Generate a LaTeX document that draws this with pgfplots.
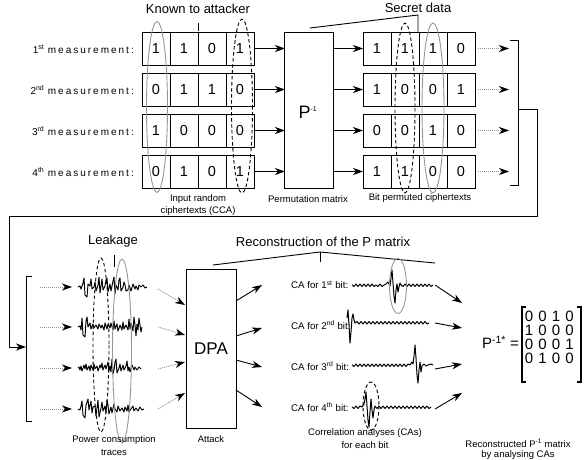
\documentclass[border=0pt]{standalone}
\usepackage{pgfplots}
\pgfplotsset{compat=1.18}
\usepackage{fontspec}
\setmainfont{Liberation Sans}
\usetikzlibrary{arrows.meta}
\definecolor{eg}{RGB}{150,150,150}
\tikzset{
 bx/.style={line width=0.9pt},
 arr/.style={line width=0.9pt,-{Stealth[length=10pt,width=7pt,inset=3pt]}},
 darr/.style={line width=0.9pt,draw=eg,dash pattern=on 1pt off 1pt,-{Stealth[length=10pt,width=7pt,inset=3pt,color=black]}},
 gell/.style={draw=eg,line width=0.9pt},
 dell/.style={draw=black,line width=0.9pt,dash pattern=on 3.5pt off 2.5pt},
 dg/.style={font=\fontsize{14.5}{16}\selectfont,inner sep=0pt},
 cpt/.style={font=\fontsize{9.5}{11}\selectfont,inner sep=0pt},
 hd/.style={font=\fontsize{13}{15}\selectfont,inner sep=0pt},
 ml/.style={font=\fontsize{10}{12}\selectfont,inner sep=0pt,anchor=east},
 cal/.style={font=\fontsize{9.7}{11}\selectfont,inner sep=0pt,anchor=west},
 md/.style={font=\fontsize{15}{17}\selectfont,inner sep=0pt},
}
\newcommand\boxrow[7]{\draw[bx] (#1,#6) rectangle (#5,#7); \draw[bx] (#2,#6)--(#2,#7) (#3,#6)--(#3,#7) (#4,#6)--(#4,#7);}
\newcommand\drowL[5]{\node[dg] at (156,#1) {#2}; \node[dg] at (184,#1) {#3}; \node[dg] at (212,#1) {#4}; \node[dg] at (240,#1) {#5};}
\newcommand\drowR[5]{\node[dg] at (377,#1) {#2}; \node[dg] at (405,#1) {#3}; \node[dg] at (433,#1) {#4}; \node[dg] at (461,#1) {#5};}
\newcommand\mrow[5]{\node[md] at (529,#1) {#2}; \node[md] at (542.5,#1) {#3}; \node[md] at (556,#1) {#4}; \node[md] at (569.5,#1) {#5};}
\newcommand\meas[2]{\node[ml] at (134,#1) {#2\hspace{0.35em}{\addfontfeatures{LetterSpace=20}measurement:}};}
\begin{document}
\begin{tikzpicture}
\begin{axis}[scale only axis, width=584pt, height=459pt, xmin=0, xmax=584, ymin=0, ymax=459,
  y dir=reverse, axis lines=none, clip=false]
\path (0,0) rectangle (584,459);
% ---------- top part ----------
\node[hd] at (198,9) {Known to attacker};
\draw[bx] (198,23) -- (198,31);
\node[hd] at (418,8) {Secret data};
\draw[bx] (310,28) -- (418,15) -- (418,32);
\meas{49}{1\textsuperscript{st}}
\meas{90}{2\textsuperscript{nd}}
\meas{131}{3\textsuperscript{rd}}
\meas{172}{4\textsuperscript{th}}
\boxrow{142}{170}{198}{226}{254}{32}{65}
\boxrow{142}{170}{198}{226}{254}{73}{106}
\boxrow{142}{170}{198}{226}{254}{114}{147}
\boxrow{142}{170}{198}{226}{254}{155}{188}
\drowL{49}{1}{1}{0}{1}
\drowL{90}{0}{1}{1}{0}
\drowL{131}{1}{0}{0}{0}
\drowL{172}{0}{1}{0}{1}
\draw[gell] (157,107) ellipse [x radius=10.5, y radius=85.5];
\draw[dell] (242,106) ellipse [x radius=10.5, y radius=87];
\draw[arr] (254,48.5) -- (285,48.5);
\draw[arr] (254,89.5) -- (285,89.5);
\draw[arr] (254,130.5) -- (285,130.5);
\draw[arr] (254,171.5) -- (285,171.5);
\draw[bx] (284,32) rectangle (333,188);
\node[font=\fontsize{18}{20}\selectfont,inner sep=0pt] at (308,112) {P\textsuperscript{\fontsize{7}{8}\selectfont -1}};
\draw[arr] (333,48.5) -- (363,48.5);
\draw[arr] (333,89.5) -- (363,89.5);
\draw[arr] (333,130.5) -- (363,130.5);
\draw[arr] (333,171.5) -- (363,171.5);
\boxrow{363}{391}{419}{447}{475}{32}{65}
\boxrow{363}{391}{419}{447}{475}{73}{106}
\boxrow{363}{391}{419}{447}{475}{114}{147}
\boxrow{363}{391}{419}{447}{475}{155}{188}
\drowR{49}{1}{1}{1}{0}
\drowR{90}{1}{0}{0}{1}
\drowR{131}{0}{0}{1}{0}
\drowR{172}{1}{1}{0}{0}
\draw[dell] (405,108) ellipse [x radius=10, y radius=85];
\draw[gell] (433,108) ellipse [x radius=11, y radius=85];
\draw[darr] (478,48.5) -- (509,48.5);
\draw[darr] (478,89.5) -- (509,89.5);
\draw[darr] (478,130.5) -- (509,130.5);
\draw[darr] (478,171.5) -- (509,171.5);
\draw[bx] (510,40) -- (518,40) -- (518,185) -- (510,185);
\draw[bx] (518,109) -- (537,109) -- (537,216) -- (9,216) -- (9,347);
\draw[arr] (8.55,347) -- (26,347);
\node[cpt] at (198,199) {Input random};
\node[cpt] at (198,211) {ciphertexts (CCA)};
\node[cpt] at (308,199) {Permutation matrix};
\node[cpt] at (420,198) {Bit permuted ciphertexts};
% ---------- bottom part ----------
\draw[bx] (32,276) -- (26,276) -- (26,421) -- (32,421);
\node[hd] at (113,241) {Leakage};
\draw[bx] (114,255) -- (114,267);
\draw[darr] (40,287) -- (72,287);
\draw[darr] (40,327) -- (72,327);
\draw[darr] (40,368) -- (72,368);
\draw[darr] (40,409) -- (72,409);
\addplot[black,line width=0.95pt,line join=round] coordinates {(78,287)(80,286)(81,289)(83,283)(84,278)(85,295)(87,297)(88,284)(90,286)(91,279)(92,289)(94,287)(95,282)(96,291)(98,285)(99,277)(100,293)(102,279)(103,290)(105,286)(106,280)(107,278)(108,292)(110,284)(111,291)(113,281)(114,277)(115,294)(116,285)(118,290)(119,280)(120,278)(121,291)(123,287)(124,282)(125,285)(126,291)(128,290)(129,285)(131,291)(133,284)(135,289)(136,286)(138,290)(139,285)(141,287)(143,285)(145,288)(147,287)};
\addplot[black,line width=0.95pt,line join=round] coordinates {(78,327)(80,326)(81,330)(82,318)(83,335)(85,337)(86,321)(87,317)(88,327)(90,323)(91,329)(93,324)(94,328)(96,325)(98,329)(99,324)(101,328)(102,325)(104,330)(105,323)(107,329)(108,324)(110,328)(111,323)(113,330)(114,321)(115,329)(117,324)(118,331)(120,325)(122,330)(123,322)(124,329)(126,325)(128,330)(129,319)(130,329)(131,323)(133,331)(134,317)(135,325)(136,336)(137,324)(138,330)(139,318)(140,325)(141,332)(142,327)};
\addplot[black,line width=0.95pt,line join=round] coordinates {(78,368)(79,367)(80,370)(81,366)(82,371)(84,365)(85,369)(86,364)(87,370)(89,366)(90,371)(91,365)(93,370)(94,364)(95,369)(97,366)(98,371)(100,365)(101,368)(102,363)(103,370)(105,365)(106,369)(108,362)(109,371)(110,366)(111,372)(112,359)(113,374)(114,370)(115,362)(116,359)(117,373)(119,368)(120,364)(121,371)(123,365)(124,370)(126,366)(127,361)(128,371)(129,367)(130,372)(132,365)(134,370)(135,367)(137,370)(139,367)(141,369)};
\addplot[black,line width=0.95pt,line join=round] coordinates {(78,409)(80,410)(81,406)(82,401)(83,415)(85,418)(86,405)(88,399)(89,410)(90,405)(91,401)(92,413)(93,407)(95,406)(96,416)(97,408)(98,400)(99,417)(101,408)(102,402)(103,411)(105,406)(106,413)(107,400)(108,405)(109,414)(111,407)(112,413)(114,404)(115,409)(117,412)(118,406)(120,411)(122,408)(124,412)(125,407)(127,411)(128,405)(129,412)(131,409)(133,406)(134,411)(136,408)(138,411)(140,407)(142,410)(144,409)};
\draw[dell] (101,345) ellipse [x radius=8, y radius=87];
\draw[gell] (122,351) ellipse [x radius=9.5, y radius=92];
\draw[darr] (158,289) -- (185,305);
\draw[darr] (158,327) -- (185,335);
\draw[darr] (158,369) -- (185,362);
\draw[darr] (158,409) -- (185,393);
\draw[bx] (186,269) rectangle (236,428);
\node[font=\fontsize{17}{19}\selectfont,inner sep=0pt] at (211,349) {DPA};
\node[cpt] at (211,439) {Attack};
\node[cpt] at (114,440) {Power consumption};
\node[cpt] at (114,452) {traces};
\node[hd] at (323,242) {Reconstruction of the P matrix};
\draw[bx] (213,265) -- (320,252) -- (435,263);
\draw[bx] (320,252) -- (320,262);
\draw[arr] (236,301) -- (262,285);
\draw[arr] (236,336) -- (262,328);
\draw[arr] (236,360) -- (262,367);
\draw[arr] (236,390) -- (262,407);
\node[cal] at (291,285) {CA for 1\textsuperscript{st} bit:};
\node[cal] at (291,325) {CA for 2\textsuperscript{nd} bit:};
\node[cal] at (291,366) {CA for 3\textsuperscript{rd} bit:};
\node[cal] at (291,407) {CA for 4\textsuperscript{th} bit:};
\addplot[black,line width=1pt,line join=round] coordinates {(352,285)(354,286.5)(356,284)(358,286.5)(360,284)(362,286.5)(364,284)(366,286.5)(368,284)(370,286.5)(372,284)(374,286.5)(376,285)(378,286.5)(380,284)(382,286.5)(384,285)(386,284)(388,282)(389,284)(390,286)(391,278)(392,270)(393,283)(394,296)(395,303)(396,290)(397,284)(398,292)(399,287)(400,283)(401,285)(403,286.5)(405,284)(407,286.5)(409,284)(411,286.5)(413,284)(415,286.5)(417,284)(419,286.5)(421,284)(423,286.5)(425,284)(427,286.5)(429,284)(431,286.5)(433,285)};
\addplot[black,line width=1pt,line join=round] coordinates {(347,318)(348,310)(349,325)(350,343)(351,332)(352,318)(353,314)(354,320)(355,323)(357,321.5)(359,324)(361,321.5)(363,324)(365,321.5)(367,324)(369,321.5)(371,324)(373,321.5)(375,324)(377,321.5)(379,324)(381,321.5)(383,324)(385,321.5)(387,324)(389,321.5)(391,324)(393,321.5)(395,324)(397,321.5)(399,324)(401,321.5)(403,324)(405,321.5)(407,324)(409,321.5)(411,324)(413,321.5)(415,324)(417,321.5)(419,324)(421,321.5)(423,324)(425,321.5)(427,324)(429,323)};
\addplot[black,line width=1pt,line join=round] coordinates {(352,365)(354,366.5)(356,364)(358,366.5)(360,364)(362,366.5)(364,364)(366,366.5)(368,364)(370,366.5)(372,364)(374,366.5)(376,364)(378,366.5)(380,364)(382,366.5)(384,364)(386,366.5)(388,364)(390,366.5)(392,364)(394,366.5)(396,364)(398,366.5)(400,364)(402,366.5)(404,364)(406,366.5)(408,364)(410,365)(412,362)(413,364)(414,356)(415,345)(416,358)(417,375)(418,383)(419,370)(420,362)(421,372)(422,366)(424,364)(426,366)(428,365)(431,364)(433,365)};
\addplot[black,line width=1pt,line join=round] coordinates {(352,407)(354,408.5)(356,406)(358,408.5)(360,406)(362,407)(364,404)(365,399)(366,392)(367,406)(368,420)(369,427)(370,412)(371,399)(372,410)(373,418)(374,410)(375,406)(377,408.5)(379,406)(381,408.5)(383,406)(385,408.5)(387,406)(389,408.5)(391,406)(393,408.5)(395,406)(397,408.5)(399,406)(401,408.5)(403,406)(405,408.5)(407,406)(409,408.5)(411,406)(413,408.5)(415,406)(417,408.5)(419,406)(421,408.5)(423,406)(425,408.5)(427,406)(429,408.5)(431,407)};
\draw[gell] (398,286) ellipse [x radius=8.5, y radius=27.5];
\draw[dell] (371,406) ellipse [x radius=8, y radius=24];
\node[cpt] at (365,433) {Correlation analyses (CAs)};
\node[cpt] at (365,445) {for each bit};
\draw[arr] (435,285) -- (462,303);
\draw[arr] (435,323) -- (462,328);
\draw[arr] (435,369) -- (462,364);
\draw[arr] (435,409) -- (462,393);
\node[md,anchor=east] at (519,342) {P\textsuperscript{-1}\kern-0.05em\textsuperscript{*} =};
\draw[line width=1.1pt] (526,307) -- (522,307) -- (522,382) -- (526,382);
\draw[line width=1.1pt] (577,307) -- (581,307) -- (581,382) -- (577,382);
\mrow{316}{0}{0}{1}{0}
\mrow{330}{1}{0}{0}{0}
\mrow{344}{0}{0}{0}{1}
\mrow{358}{0}{1}{0}{0}
\node[cpt] at (518,443) {Reconstructed P\textsuperscript{-1} matrix};
\node[cpt] at (518,455) {by analysing CAs};
\end{axis}
\end{tikzpicture}
\end{document}
